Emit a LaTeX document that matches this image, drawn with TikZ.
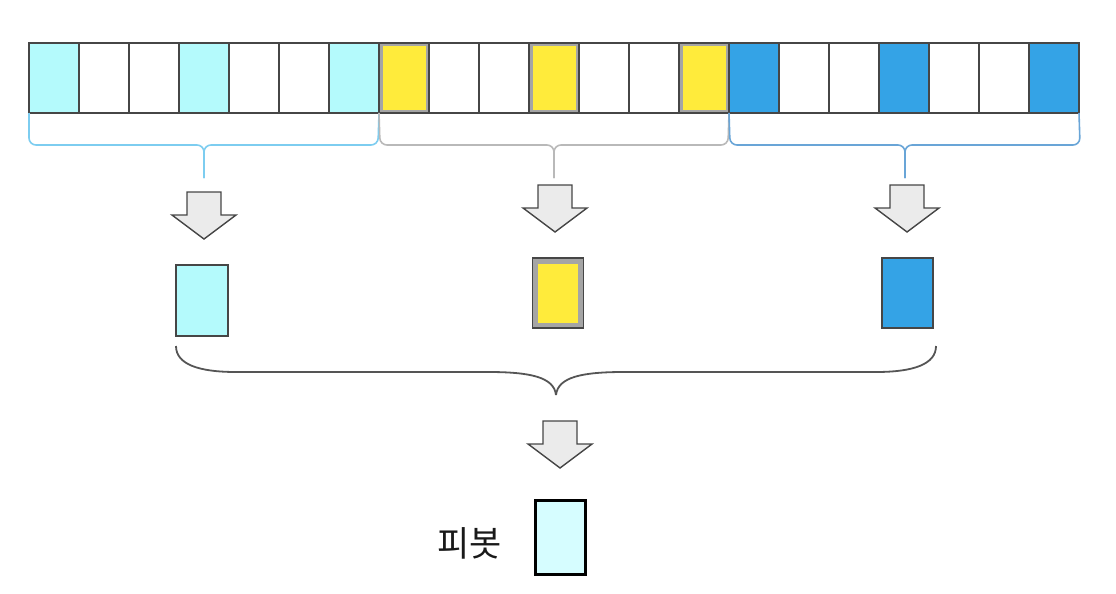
\documentclass[tikz,border=0pt]{standalone}
\usepackage{fontspec}
\newfontfamily\kr{Noto Sans CJK KR}
\usetikzlibrary{calc}
\definecolor{cy}{RGB}{180,250,252}
\definecolor{ye}{RGB}{255,235,59}
\definecolor{bl}{RGB}{52,163,230}
\definecolor{pv}{RGB}{214,253,255}
\definecolor{lineg}{RGB}{70,70,70}
\definecolor{framey}{RGB}{165,165,165}
\definecolor{arrfill}{RGB}{235,235,235}
\definecolor{brA}{RGB}{125,205,240}
\definecolor{brB}{RGB}{185,185,185}
\definecolor{brC}{RGB}{105,165,215}
\definecolor{brD}{RGB}{85,85,85}
\begin{document}
\begin{tikzpicture}[x=1pt,y=-1pt,
  cell/.style={draw=lineg, line width=1.8pt, minimum width=50pt, minimum height=70pt, inner sep=0pt, outer sep=0pt, fill=white},
  w/.style={fill=white},
  g0/.style={fill=cy},
  g1/.style={fill=framey, path picture={\fill[ye] ([shift={(3.5pt,3.5pt)}]path picture bounding box.south west) rectangle ([shift={(-3.5pt,-3.5pt)}]path picture bounding box.north east);}},
  g2/.style={fill=bl},
  single/.style={draw=lineg, line width=1.5pt, inner sep=0pt, outer sep=0pt, minimum width=51pt, minimum height=70pt},
  bracestyle/.style={line width=1.6pt, rounded corners=7pt},
  bigbrace/.style={line width=1.8pt, draw=brD},
  arrowstyle/.style={draw=lineg, fill=arrfill, line width=1.4pt, line join=miter},
  pics/darrow/.style={code={\draw[arrowstyle] (-17,0) -- (17,0) -- (17,23) -- (32,23) -- (0,47) -- (-32,23) -- (-17,23) -- cycle;}}
]
\useasboundingbox (0,0) rectangle (1116,594);

% array of 21 cells
\foreach \i in {0,...,20}{
  \pgfmathtruncatemacro\g{int(\i/7)}
  \pgfmathtruncatemacro\m{mod(mod(\i,7),3)}
  \ifnum\m=0 \def\st{g\g}\else\def\st{w}\fi
  \node[cell,\st] (c\i) at ({54+50*\i},78) {};
}

% top braces
\coordinate (bA) at (204,178);
\coordinate (bB) at (554,178);
\coordinate (bC) at (905,178);
\draw[bracestyle, draw=brA] (c0.south west) -- (29,145) -- (204,145) -- (bA);
\draw[bracestyle, draw=brA] (c6.south east) -- (378,145) -- (204,145) -- (bA);
\draw[bracestyle, draw=brB] (c7.south west) -- (380,145) -- (554,145) -- (bB);
\draw[bracestyle, draw=brB] (c13.south east) -- (728,145) -- (554,145) -- (bB);
\draw[bracestyle, draw=brC] (c14.south west) -- (730,145) -- (905,145) -- (bC);
\draw[bracestyle, draw=brC] (c20.south east) -- (1080,145) -- (905,145) -- (bC);

% arrows
\pic (a1) at (204,192) {darrow};
\pic (a2) at (555,185) {darrow};
\pic (a3) at (907,185) {darrow};

% selected elements
\node[single, fill=cy, minimum height=71pt, minimum width=52pt] (s1) at (202,300.5) {};
\node[single, g1, path picture={\fill[ye] ([shift={(5.5pt,5.5pt)}]path picture bounding box.south west) rectangle ([shift={(-5.5pt,-5.5pt)}]path picture bounding box.north east);}] (s2) at (558,293) {};
\node[single, fill=bl] (s3) at (907.5,293) {};

% big brace
\coordinate (bigtip) at (556,395);
\draw[bigbrace] (176,346) .. controls (176,364) and (198,372) .. (236,372) -- (488,372) .. controls (530,372) and (554,377) .. (bigtip);
\draw[bigbrace] (936,346) .. controls (936,364) and (914,372) .. (876,372) -- (624,372) .. controls (582,372) and (558,377) .. (bigtip);

% final arrow
\pic (a4) at (560,421) {darrow};

% pivot
\node[draw=black, line width=3.5pt, fill=pv, inner sep=0pt, outer sep=0pt, minimum width=50pt, minimum height=74pt] (piv) at (560.5,537.5) {};
\node[font=\kr\fontsize{35}{40}\selectfont, text=black!90, anchor=east] (lbl) at (505,543) {피봇};
\end{tikzpicture}
\end{document}
